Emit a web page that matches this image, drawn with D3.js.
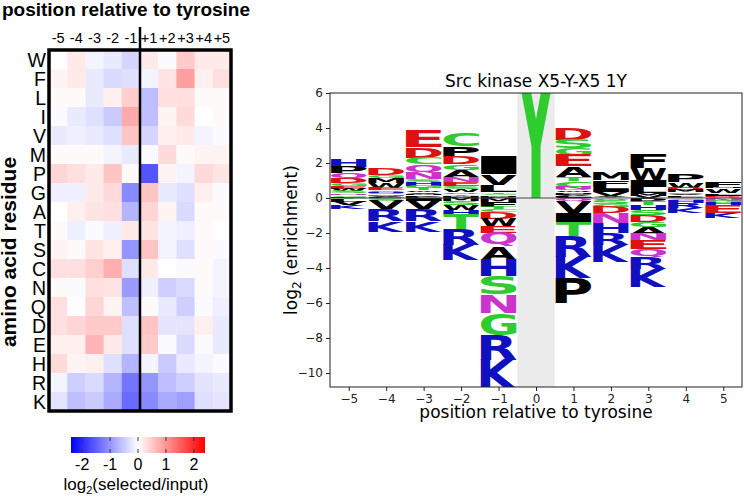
<!DOCTYPE html>
<html><head><meta charset="utf-8">
<script src="https://cdn.jsdelivr.net/npm/d3@7"></script>
<style>body{margin:0;background:#fff;} svg{display:block;}</style>
</head><body>
<svg id="chart" width="744" height="496"></svg>
<script>
// ---------- heatmap data ----------
const aminoAcids = ["W","F","L","I","V","M","P","G","A","T","S","C","N","Q","D","E","H","R","K"];
const heatPositions = ["-5","-4","-3","-2","-1","+1","+2","+3","+4","+5"];
const heatValues = [
  [ 0.00, 0.20,-0.10,-0.20,-0.40,  0.20,-0.05, 0.50, 0.20, 0.20], // W
  [ 0.10, 0.20,-0.20,-0.35,-0.30, -0.10, 0.25, 0.90, 0.15, 0.30], // F
  [ 0.05, 0.05,-0.20, 0.15, 0.45, -0.60, 0.30, 0.30, 0.05, 0.05], // L
  [-0.05,-0.20,-0.30,-0.50, 0.80, -0.60, 0.10, 0.35, 0.00, 0.05], // I
  [-0.20,-0.15,-0.20,-0.30, 0.55, -0.40, 0.15, 0.20,-0.10,-0.05], // V
  [ 0.05, 0.05, 0.05,-0.10,-0.20, -0.05, 0.35, 0.05, 0.10, 0.10], // M
  [ 0.40, 0.30, 0.20, 0.55, 0.05, -1.60, 0.10,-0.10, 0.35, 0.25], // P
  [-0.15,-0.15, 0.20, 0.35,-1.10,  0.55,-0.20,-0.30, 0.15,-0.05], // G
  [ 0.00, 0.15, 0.25, 0.30,-0.70,  0.40, 0.10,-0.35, 0.05, 0.05], // A
  [ 0.05,-0.15,-0.05,-0.15, 0.20,  0.25,-0.10,-0.15, 0.05, 0.00], // T
  [ 0.10, 0.05, 0.25, 0.15,-1.00,  0.55,-0.10,-0.30, 0.05,-0.05], // S
  [ 0.30, 0.30, 0.45, 0.75,-0.30,  0.20, 0.00,-0.05, 0.05,-0.10], // C
  [ 0.05,-0.05, 0.30, 0.25,-0.95, -0.15,-0.45,-0.35, 0.05,-0.10], // N
  [ 0.30, 0.02, 0.40, 0.10,-0.60,  0.05,-0.20,-0.45,-0.05,-0.15], // Q
  [ 0.30, 0.40, 0.50, 0.50,-0.30,  0.55,-0.25,-0.25, 0.15,-0.20], // D
  [ 0.15, 0.15, 0.70, 0.20,-0.30,  0.50,-0.05,-0.35,-0.05,-0.20], // E
  [ 0.35, 0.10, 0.15,-0.30,-0.70, -0.10,-0.50,-0.20,-0.10,-0.05], // H
  [-0.10,-0.45,-0.35,-0.70,-1.30, -1.00,-0.60,-0.45,-0.25,-0.20], // R
  [-0.25,-0.60,-0.50,-0.80,-1.40, -1.10,-0.80,-0.90,-0.30,-0.25]  // K
];
const colorbarTicks = [-2,-1,0,1,2];

// ---------- logo data (letters listed top to bottom in each column) ----------
const logoPositions = [-5,-4,-3,-2,-1,0,1,2,3,4,5];
const logoM5 = [["H",0.40],["P",0.34],["Q",0.32],["D",0.26],["G",0.18],["E",0.15],["W",0.13],["S",0.12],["N",0.10],["C",0.09],["F",0.08],
                ["T",-0.08],["L",-0.12],["V",-0.20],["K",-0.25]];
const logoM4 = [["D",0.38],["G",0.16],["M",0.30],["W",0.30],["E",0.12],["Q",0.10],["H",0.08],["S",0.06],["C",0.06],["N",0.05],["A",0.05],["F",0.04],
                ["S",-0.15],["V",-0.50],["R",-0.67],["K",-0.60]];
const logoM3 = [["E",0.97],["D",0.60],["C",0.40],["Q",0.48],["N",0.35],["S",0.18],["H",0.20],["G",0.15],["T",0.12],["W",0.10],["A",0.10],["M",0.08],["P",0.08],["L",0.07],
                ["I",-0.15],["V",-0.50],["R",-0.67],["K",-0.60]];
const logoM2 = [["C",0.80],["P",0.60],["D",0.44],["G",0.33],["A",0.40],["N",0.30],["E",0.22],["S",0.18],["W",0.15],["Q",0.10],["T",0.10],["M",0.08],["F",0.06],
                ["M",-0.19],["S",-0.19],["W",-0.29],["H",-0.29],["T",-0.86],["R",-0.86],["K",-0.86]];
const logoM1 = [["I",1.05],["V",0.60],["L",0.40],["T",0.10],["C",0.10],["M",0.08],["F",0.07],
                ["M",-0.20],["F",-0.30],["T",-0.15],["C",-0.17],["D",-0.38],["W",-0.42],["E",-0.36],["Q",-0.78],["A",-0.76],["H",-0.96],["S",-1.05],["N",-1.06],["G",-1.24],["R",-1.43],["K",-1.60]];
const logoP0 = [["Y",7.0]];
const logoP1 = [["D",0.66],["S",0.51],["G",0.38],["E",0.63],["A",0.62],["T",0.25],["C",0.30],["N",0.12],["Q",0.10],["W",0.10],["M",0.08],["F",0.08],["V",0.06],["L",0.06],["I",0.05],
                ["Q",-0.20],["V",-0.68],["I",-0.50],["T",-0.82],["R",-1.15],["K",-1.24],["P",-1.43]];
const logoP2 = [["M",0.42],["F",0.32],["L",0.22],["I",0.15],["V",0.20],["A",0.10],["T",0.04],
                ["Q",-0.12],["S",-0.20],["G",-0.18],["D",-0.38],["N",-0.57],["H",-0.57],["R",-0.67],["K",-0.95]];
const logoP3 = [["F",0.81],["W",0.67],["I",0.40],["L",0.35],["M",0.15],["V",0.13],
                ["P",-0.20],["T",-0.22],["H",-0.29],["S",-0.28],["D",-0.38],["G",-0.29],["A",-0.38],["N",-0.38],["E",-0.48],["Q",-0.47],["R",-0.67],["K",-1.05]];
const logoP4 = [["P",0.42],["W",0.30],["D",0.12],["M",0.12],["S",0.10],["A",0.10],["L",0.10],["E",0.05],
                ["G",-0.10],["N",-0.05],["H",-0.15],["R",-0.28],["K",-0.30]];
const logoP5 = [["F",0.28],["M",0.10],["W",0.25],["L",0.10],["I",0.08],["D",0.07],["S",0.05],
                ["N",-0.15],["G",-0.12],["H",-0.15],["E",-0.45],["K",-0.28]];
const logoColumns = [logoM5,logoM4,logoM3,logoM2,logoM1,logoP0,logoP1,logoP2,logoP3,logoP4,logoP5];
const logoYTicks = [6,4,2,0,-2,-4,-6,-8,-10];
const logoXTicks = [-5,-4,-3,-2,-1,0,1,2,3,4,5];

// ---------- styles ----------
const letterColors = {G:"#2ecc2e",S:"#2ecc2e",T:"#2ecc2e",Y:"#2ecc2e",C:"#2ecc2e",
  N:"#cc33cc",Q:"#cc33cc",K:"#1010c0",R:"#1010c0",H:"#1010c0",D:"#dd1111",E:"#dd1111",
  A:"#000",V:"#000",L:"#000",I:"#000",P:"#000",W:"#000",F:"#000",M:"#000"};

const svg = d3.select("#chart");

// ================= HEATMAP =================
const hx = d3.scaleBand().domain(heatPositions).range([49, 231]);
const hy = d3.scaleBand().domain(aminoAcids).range([50, 411]);
const hcolor = d3.scaleLinear().domain([-2.4, 0, 2.4]).range(["#0000ff","#ffffff","#ff0000"]).clamp(true);

const heat = svg.append("g");
const cells = [];
aminoAcids.forEach((aa, i) => heatPositions.forEach((p, j) => cells.push({aa, p, v: heatValues[i][j]})));
heat.selectAll("rect.cell").data(cells).join("rect").attr("class","cell")
  .attr("x", d => hx(d.p)).attr("y", d => hy(d.aa))
  .attr("width", hx.bandwidth() + 0.4).attr("height", hy.bandwidth() + 0.4)
  .attr("fill", d => hcolor(d.v));
heat.append("rect").attr("x",49).attr("y",50).attr("width",182).attr("height",361)
  .attr("fill","none").attr("stroke","#000").attr("stroke-width",3.5);
heat.append("line").attr("x1",140).attr("x2",140).attr("y1",27).attr("y2",411)
  .attr("stroke","#000").attr("stroke-width",2.5);

heat.selectAll("text.col").data(heatPositions).join("text").attr("class","col")
  .attr("x", d => hx(d) + hx.bandwidth()/2).attr("y", 43)
  .attr("text-anchor","middle").attr("font-family","Liberation Sans, Arial, sans-serif")
  .attr("font-size",14.5).text(d => d);
heat.selectAll("text.row").data(aminoAcids).join("text").attr("class","row")
  .attr("x", 46).attr("y", d => hy(d) + hy.bandwidth()/2 + 7)
  .attr("text-anchor","end").attr("font-family","Liberation Sans, Arial, sans-serif")
  .attr("font-size",19.5).text(d => d);
heat.append("text").attr("x",126).attr("y",16).attr("text-anchor","middle")
  .attr("font-family","Liberation Sans, Arial, sans-serif").attr("font-weight","bold")
  .attr("font-size",19).text("position relative to tyrosine");
heat.append("text").attr("transform","translate(16,252) rotate(-90)").attr("text-anchor","middle")
  .attr("font-family","Liberation Sans, Arial, sans-serif").attr("font-weight","bold")
  .attr("font-size",21).text("amino acid residue");

// colorbar
const cbx = d3.scaleLinear().domain([-2.4, 2.4]).range([71, 205]);
const grad = svg.append("defs").append("linearGradient").attr("id","cbgrad");
d3.range(0, 1.0001, 0.05).forEach(t => grad.append("stop").attr("offset", t)
  .attr("stop-color", hcolor(-2.4 + 4.8*t)));
svg.append("rect").attr("x",71).attr("y",437).attr("width",134).attr("height",16).attr("fill","url(#cbgrad)");
const cbg = svg.append("g");
cbg.selectAll("line.tt").data(colorbarTicks).join("line").attr("class","tt")
  .attr("x1", d => cbx(d)).attr("x2", d => cbx(d)).attr("y1",437).attr("y2",441)
  .attr("stroke","#333").attr("stroke-width",1);
cbg.selectAll("line.tb").data(colorbarTicks).join("line").attr("class","tb")
  .attr("x1", d => cbx(d)).attr("x2", d => cbx(d)).attr("y1",449).attr("y2",453)
  .attr("stroke","#333").attr("stroke-width",1);
cbg.selectAll("text").data(colorbarTicks).join("text")
  .attr("x", d => cbx(d)).attr("y",470).attr("text-anchor","middle")
  .attr("font-family","Liberation Sans, Arial, sans-serif").attr("font-size",16)
  .text(d => d < 0 ? "-" + Math.abs(d) : d);
const cbl = svg.append("text").attr("x",136).attr("y",490).attr("text-anchor","middle")
  .attr("font-family","Liberation Sans, Arial, sans-serif").attr("font-size",17);
cbl.append("tspan").text("log");
cbl.append("tspan").attr("font-size",11).attr("dy",4).text("2");
cbl.append("tspan").attr("dy",-4).text("(selected/input)");

// ================= LOGO =================
const lx = d3.scaleLinear().domain([-5.5, 5.5]).range([330, 742]);
const ly = d3.scaleLinear().domain([-10.8, 6]).range([387, 93]);
const logo = svg.append("g");
logo.append("clipPath").attr("id","logoclip").append("rect")
  .attr("x",330).attr("y",93).attr("width",412).attr("height",294);
logo.append("rect").attr("x", lx(-0.5)).attr("y", ly(6)).attr("width", lx(0.5)-lx(-0.5))
  .attr("height", ly(-10.8)-ly(6)).attr("fill","#ebebeb");

const cvs = document.createElement("canvas");
const ctx = cvs.getContext("2d");
ctx.font = "bold 200px 'DejaVu Sans'";
const letters = logo.append("g").attr("clip-path","url(#logoclip)");
function drawLetter(ch, x0, x1, yTop, yBot) {
  const m = ctx.measureText(ch);
  const l = m.actualBoundingBoxLeft, r = m.actualBoundingBoxRight;
  const a = m.actualBoundingBoxAscent, d = m.actualBoundingBoxDescent;
  const sx = (x1 - x0) / (l + r), sy = (yBot - yTop) / (a + d);
  letters.append("text")
    .attr("transform", `translate(${x0},${yTop}) scale(${sx},${sy}) translate(${l},${a})`)
    .attr("font-family","DejaVu Sans").attr("font-weight","bold").attr("font-size",200)
    .attr("fill", letterColors[ch]).text(ch);
}
logoColumns.forEach((col, i) => {
  const pos = logoPositions[i];
  const x0 = lx(pos - 0.475), x1 = lx(pos + 0.475);
  const posTotal = d3.sum(col.filter(d => d[1] > 0), d => d[1]);
  let cur = posTotal;
  col.filter(d => d[1] > 0).forEach(([ch, v]) => { drawLetter(ch, x0, x1, ly(cur), ly(cur - v)); cur -= v; });
  cur = 0;
  col.filter(d => d[1] < 0).forEach(([ch, v]) => { drawLetter(ch, x0, x1, ly(cur), ly(cur + v)); cur += v; });
});
logo.append("line").attr("x1", lx(-5.5)).attr("x2", lx(5.5)).attr("y1", ly(0)).attr("y2", ly(0))
  .attr("stroke","#444").attr("stroke-width",1.2);
logo.append("rect").attr("x",330).attr("y",93).attr("width",412).attr("height",294)
  .attr("fill","none").attr("stroke","#222").attr("stroke-width",1);

const yAxis = logo.append("g").attr("transform","translate(330,0)")
  .call(d3.axisLeft(ly).tickValues(logoYTicks).tickSize(4).tickSizeOuter(0).tickPadding(3).tickFormat(d3.format("d")));
const xAxis = logo.append("g").attr("transform","translate(0,387)")
  .call(d3.axisBottom(lx).tickValues(logoXTicks).tickSize(4).tickSizeOuter(0).tickPadding(3).tickFormat(d3.format("d")));
[yAxis, xAxis].forEach(g => {
  g.select(".domain").remove();
  g.selectAll("text").attr("font-family","DejaVu Sans").attr("font-size",12).attr("fill","#222");
  g.selectAll("line").attr("stroke","#222");
});
logo.append("text").attr("x", 536).attr("y", 87).attr("text-anchor","middle")
  .attr("font-family","DejaVu Sans").attr("font-size",17).text("Src kinase X5-Y-X5 1Y");
logo.append("text").attr("x", 536).attr("y", 418).attr("text-anchor","middle")
  .attr("font-family","DejaVu Sans").attr("font-size",17).text("position relative to tyrosine");
const yl = logo.append("text").attr("transform","translate(297,240) rotate(-90)").attr("text-anchor","middle")
  .attr("font-family","DejaVu Sans").attr("font-size",17);
yl.append("tspan").text("log");
yl.append("tspan").attr("font-size",12).attr("dy",4).text("2");
yl.append("tspan").attr("dy",-4).text(" (enrichment)");
</script>
</body></html>
